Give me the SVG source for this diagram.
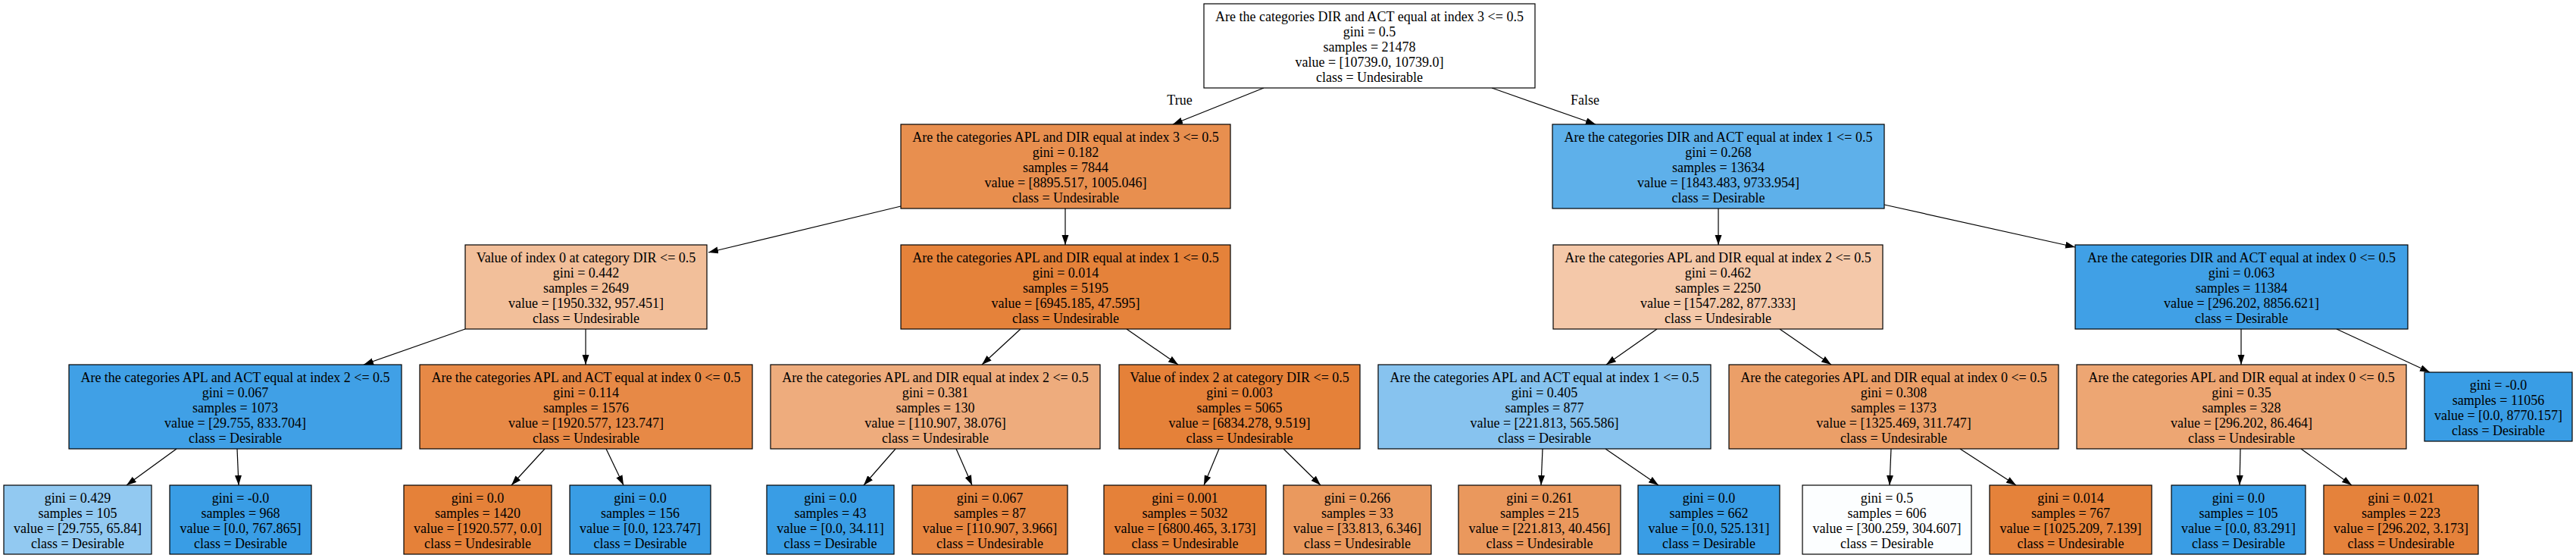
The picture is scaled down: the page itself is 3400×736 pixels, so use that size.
<svg xmlns="http://www.w3.org/2000/svg" width="3400" height="736" viewBox="0 0 3400 736">
<style>
.bg{fill:#ffffff}
.box{stroke:#000000;stroke-width:1.2}
text{font-family:"Liberation Serif","Times New Roman",serif;font-size:18px;fill:#000000;text-anchor:middle}
.edge{stroke:#000000;stroke-width:1.2;fill:none;marker-end:url(#arr)}
</style>
<defs>
<marker id="arr" markerUnits="userSpaceOnUse" markerWidth="14" markerHeight="10" refX="13" refY="4.5" orient="auto">
<path d="M0,0 L13,4.5 L0,9 z" fill="#000000"/>
</marker>
</defs>
<rect class="bg" x="0" y="0" width="3400" height="736"/>
<g id="connectors">
<path class="edge" d="M1668,116 L1548,164"/>
<path class="edge" d="M1969,116 L2106,164"/>
<path class="edge" d="M1189,272 L935,333"/>
<path class="edge" d="M1406,275 L1406,323"/>
<path class="edge" d="M2268,275 L2268,323"/>
<path class="edge" d="M2487,270 L2739,326"/>
<path class="edge" d="M614,434 L480,481"/>
<path class="edge" d="M773,434 L773,481"/>
<path class="edge" d="M1347,434 L1296,481"/>
<path class="edge" d="M1487,434 L1555,481"/>
<path class="edge" d="M2187,434 L2120,481"/>
<path class="edge" d="M2349,434 L2417,481"/>
<path class="edge" d="M2958,434 L2958,481"/>
<path class="edge" d="M3084,434 L3207,491"/>
<path class="edge" d="M233,592 L167,640"/>
<path class="edge" d="M313,592 L315,640"/>
<path class="edge" d="M719,592 L675,640"/>
<path class="edge" d="M800,592 L823,640"/>
<path class="edge" d="M1182,592 L1140,640"/>
<path class="edge" d="M1262,592 L1283,640"/>
<path class="edge" d="M1609,592 L1589,640"/>
<path class="edge" d="M1694,592 L1743,640"/>
<path class="edge" d="M2036,592 L2034,640"/>
<path class="edge" d="M2119,592 L2189,640"/>
<path class="edge" d="M2496,592 L2494,640"/>
<path class="edge" d="M2587,592 L2661,640"/>
<path class="edge" d="M2957,592 L2956,640"/>
<path class="edge" d="M3037,592 L3104,640"/>
<text x="1557" y="138">True</text>
<text x="2092" y="138">False</text>
</g>
<g id="n0"><rect class="box" x="1589" y="5" width="437" height="111" fill="#ffffff"/>
<text x="1807.5" y="27.5">Are the categories DIR and ACT equal at index 3 &lt;= 0.5</text><text x="1807.5" y="47.5">gini = 0.5</text><text x="1807.5" y="67.5">samples = 21478</text><text x="1807.5" y="87.5">value = [10739.0, 10739.0]</text><text x="1807.5" y="107.5">class = Undesirable</text></g>
<g id="n1"><rect class="box" x="1189" y="164" width="435" height="111" fill="#e88f4f"/>
<text x="1406.5" y="186.5">Are the categories APL and DIR equal at index 3 &lt;= 0.5</text><text x="1406.5" y="206.5">gini = 0.182</text><text x="1406.5" y="226.5">samples = 7844</text><text x="1406.5" y="246.5">value = [8895.517, 1005.046]</text><text x="1406.5" y="266.5">class = Undesirable</text></g>
<g id="n2"><rect class="box" x="2049" y="164" width="438" height="111" fill="#5eb0ea"/>
<text x="2268" y="186.5">Are the categories DIR and ACT equal at index 1 &lt;= 0.5</text><text x="2268" y="206.5">gini = 0.268</text><text x="2268" y="226.5">samples = 13634</text><text x="2268" y="246.5">value = [1843.483, 9733.954]</text><text x="2268" y="266.5">class = Desirable</text></g>
<g id="n3"><rect class="box" x="614" y="323" width="319" height="111" fill="#f2bf9a"/>
<text x="773.5" y="345.5">Value of index 0 at category DIR &lt;= 0.5</text><text x="773.5" y="365.5">gini = 0.442</text><text x="773.5" y="385.5">samples = 2649</text><text x="773.5" y="405.5">value = [1950.332, 957.451]</text><text x="773.5" y="425.5">class = Undesirable</text></g>
<g id="n4"><rect class="box" x="1189" y="323" width="435" height="111" fill="#e5823a"/>
<text x="1406.5" y="345.5">Are the categories APL and DIR equal at index 1 &lt;= 0.5</text><text x="1406.5" y="365.5">gini = 0.014</text><text x="1406.5" y="385.5">samples = 5195</text><text x="1406.5" y="405.5">value = [6945.185, 47.595]</text><text x="1406.5" y="425.5">class = Undesirable</text></g>
<g id="n5"><rect class="box" x="2050" y="323" width="435" height="111" fill="#f4c8a9"/>
<text x="2267.5" y="345.5">Are the categories APL and DIR equal at index 2 &lt;= 0.5</text><text x="2267.5" y="365.5">gini = 0.462</text><text x="2267.5" y="385.5">samples = 2250</text><text x="2267.5" y="405.5">value = [1547.282, 877.333]</text><text x="2267.5" y="425.5">class = Undesirable</text></g>
<g id="n6"><rect class="box" x="2739" y="323" width="439" height="111" fill="#40a0e6"/>
<text x="2958.5" y="345.5">Are the categories DIR and ACT equal at index 0 &lt;= 0.5</text><text x="2958.5" y="365.5">gini = 0.063</text><text x="2958.5" y="385.5">samples = 11384</text><text x="2958.5" y="405.5">value = [296.202, 8856.621]</text><text x="2958.5" y="425.5">class = Desirable</text></g>
<g id="n7"><rect class="box" x="91" y="481" width="439" height="111" fill="#40a0e6"/>
<text x="310.5" y="503.5">Are the categories APL and ACT equal at index 2 &lt;= 0.5</text><text x="310.5" y="523.5">gini = 0.067</text><text x="310.5" y="543.5">samples = 1073</text><text x="310.5" y="563.5">value = [29.755, 833.704]</text><text x="310.5" y="583.5">class = Desirable</text></g>
<g id="n8"><rect class="box" x="554" y="481" width="439" height="111" fill="#e78946"/>
<text x="773.5" y="503.5">Are the categories APL and ACT equal at index 0 &lt;= 0.5</text><text x="773.5" y="523.5">gini = 0.114</text><text x="773.5" y="543.5">samples = 1576</text><text x="773.5" y="563.5">value = [1920.577, 123.747]</text><text x="773.5" y="583.5">class = Undesirable</text></g>
<g id="n9"><rect class="box" x="1017" y="481" width="435" height="111" fill="#eeac7d"/>
<text x="1234.5" y="503.5">Are the categories APL and DIR equal at index 2 &lt;= 0.5</text><text x="1234.5" y="523.5">gini = 0.381</text><text x="1234.5" y="543.5">samples = 130</text><text x="1234.5" y="563.5">value = [110.907, 38.076]</text><text x="1234.5" y="583.5">class = Undesirable</text></g>
<g id="n10"><rect class="box" x="1477" y="481" width="318" height="111" fill="#e58139"/>
<text x="1636" y="503.5">Value of index 2 at category DIR &lt;= 0.5</text><text x="1636" y="523.5">gini = 0.003</text><text x="1636" y="543.5">samples = 5065</text><text x="1636" y="563.5">value = [6834.278, 9.519]</text><text x="1636" y="583.5">class = Undesirable</text></g>
<g id="n11"><rect class="box" x="1819" y="481" width="439" height="111" fill="#87c3ef"/>
<text x="2038.5" y="503.5">Are the categories APL and ACT equal at index 1 &lt;= 0.5</text><text x="2038.5" y="523.5">gini = 0.405</text><text x="2038.5" y="543.5">samples = 877</text><text x="2038.5" y="563.5">value = [221.813, 565.586]</text><text x="2038.5" y="583.5">class = Desirable</text></g>
<g id="n12"><rect class="box" x="2282" y="481" width="435" height="111" fill="#eb9f68"/>
<text x="2499.5" y="503.5">Are the categories APL and DIR equal at index 0 &lt;= 0.5</text><text x="2499.5" y="523.5">gini = 0.308</text><text x="2499.5" y="543.5">samples = 1373</text><text x="2499.5" y="563.5">value = [1325.469, 311.747]</text><text x="2499.5" y="583.5">class = Undesirable</text></g>
<g id="n13"><rect class="box" x="2741" y="481" width="435" height="111" fill="#eda673"/>
<text x="2958.5" y="503.5">Are the categories APL and DIR equal at index 0 &lt;= 0.5</text><text x="2958.5" y="523.5">gini = 0.35</text><text x="2958.5" y="543.5">samples = 328</text><text x="2958.5" y="563.5">value = [296.202, 86.464]</text><text x="2958.5" y="583.5">class = Undesirable</text></g>
<g id="n14"><rect class="box" x="3200" y="491" width="195" height="91" fill="#399de5"/>
<text x="3297.5" y="513.5">gini = -0.0</text><text x="3297.5" y="533.5">samples = 11056</text><text x="3297.5" y="553.5">value = [0.0, 8770.157]</text><text x="3297.5" y="573.5">class = Desirable</text></g>
<g id="n15"><rect class="box" x="5" y="640" width="195" height="91" fill="#92c9f1"/>
<text x="102.5" y="662.5">gini = 0.429</text><text x="102.5" y="682.5">samples = 105</text><text x="102.5" y="702.5">value = [29.755, 65.84]</text><text x="102.5" y="722.5">class = Desirable</text></g>
<g id="n16"><rect class="box" x="224" y="640" width="187" height="91" fill="#399de5"/>
<text x="317.5" y="662.5">gini = -0.0</text><text x="317.5" y="682.5">samples = 968</text><text x="317.5" y="702.5">value = [0.0, 767.865]</text><text x="317.5" y="722.5">class = Desirable</text></g>
<g id="n17"><rect class="box" x="533" y="640" width="195" height="91" fill="#e58139"/>
<text x="630.5" y="662.5">gini = 0.0</text><text x="630.5" y="682.5">samples = 1420</text><text x="630.5" y="702.5">value = [1920.577, 0.0]</text><text x="630.5" y="722.5">class = Undesirable</text></g>
<g id="n18"><rect class="box" x="752" y="640" width="186" height="91" fill="#399de5"/>
<text x="845" y="662.5">gini = 0.0</text><text x="845" y="682.5">samples = 156</text><text x="845" y="702.5">value = [0.0, 123.747]</text><text x="845" y="722.5">class = Desirable</text></g>
<g id="n19"><rect class="box" x="1012" y="640" width="168" height="91" fill="#399de5"/>
<text x="1096" y="662.5">gini = 0.0</text><text x="1096" y="682.5">samples = 43</text><text x="1096" y="702.5">value = [0.0, 34.11]</text><text x="1096" y="722.5">class = Desirable</text></g>
<g id="n20"><rect class="box" x="1204" y="640" width="205" height="91" fill="#e68540"/>
<text x="1306.5" y="662.5">gini = 0.067</text><text x="1306.5" y="682.5">samples = 87</text><text x="1306.5" y="702.5">value = [110.907, 3.966]</text><text x="1306.5" y="722.5">class = Undesirable</text></g>
<g id="n21"><rect class="box" x="1457" y="640" width="214" height="91" fill="#e58139"/>
<text x="1564" y="662.5">gini = 0.001</text><text x="1564" y="682.5">samples = 5032</text><text x="1564" y="702.5">value = [6800.465, 3.173]</text><text x="1564" y="722.5">class = Undesirable</text></g>
<g id="n22"><rect class="box" x="1694" y="640" width="195" height="91" fill="#ea995e"/>
<text x="1791.5" y="662.5">gini = 0.266</text><text x="1791.5" y="682.5">samples = 33</text><text x="1791.5" y="702.5">value = [33.813, 6.346]</text><text x="1791.5" y="722.5">class = Undesirable</text></g>
<g id="n23"><rect class="box" x="1925" y="640" width="214" height="91" fill="#ea985d"/>
<text x="2032" y="662.5">gini = 0.261</text><text x="2032" y="682.5">samples = 215</text><text x="2032" y="702.5">value = [221.813, 40.456]</text><text x="2032" y="722.5">class = Undesirable</text></g>
<g id="n24"><rect class="box" x="2162" y="640" width="187" height="91" fill="#399de5"/>
<text x="2255.5" y="662.5">gini = 0.0</text><text x="2255.5" y="682.5">samples = 662</text><text x="2255.5" y="702.5">value = [0.0, 525.131]</text><text x="2255.5" y="722.5">class = Desirable</text></g>
<g id="n25"><rect class="box" x="2379" y="640" width="223" height="91" fill="#fcfeff"/>
<text x="2490.5" y="662.5">gini = 0.5</text><text x="2490.5" y="682.5">samples = 606</text><text x="2490.5" y="702.5">value = [300.259, 304.607]</text><text x="2490.5" y="722.5">class = Desirable</text></g>
<g id="n26"><rect class="box" x="2626" y="640" width="214" height="91" fill="#e5823a"/>
<text x="2733" y="662.5">gini = 0.014</text><text x="2733" y="682.5">samples = 767</text><text x="2733" y="702.5">value = [1025.209, 7.139]</text><text x="2733" y="722.5">class = Undesirable</text></g>
<g id="n27"><rect class="box" x="2866" y="640" width="177" height="91" fill="#399de5"/>
<text x="2954.5" y="662.5">gini = 0.0</text><text x="2954.5" y="682.5">samples = 105</text><text x="2954.5" y="702.5">value = [0.0, 83.291]</text><text x="2954.5" y="722.5">class = Desirable</text></g>
<g id="n28"><rect class="box" x="3067" y="640" width="204" height="91" fill="#e5823b"/>
<text x="3169" y="662.5">gini = 0.021</text><text x="3169" y="682.5">samples = 223</text><text x="3169" y="702.5">value = [296.202, 3.173]</text><text x="3169" y="722.5">class = Undesirable</text></g>
</svg>
